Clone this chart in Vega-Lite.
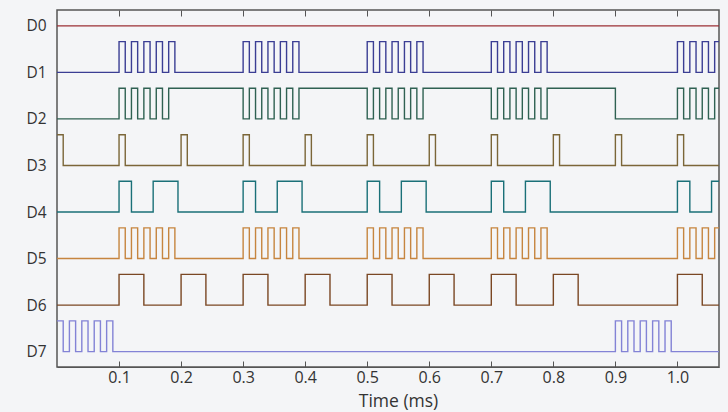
{
  "$schema": "https://vega.github.io/schema/vega-lite/v6.json",
  "width": 662,
  "height": 357,
  "padding": {"left": 57, "top": 10, "right": 9, "bottom": 45},
  "autosize": {"type": "none"},
  "background": "#f4f5f7",
  "config": {
    "view": {"stroke": "#555555", "strokeWidth": 1.5},
    "font": "Open Sans",
    "axis": {"labelColor": "#333333", "titleColor": "#333333", "domainColor": "#555555", "tickColor": "#555555", "grid": false, "labelFontSize": 15, "titleFontSize": 17.5, "titleFontWeight": "normal"}
  },
  "data": {
    "values": [
      {"ch": "D0", "n": 0, "t": 0, "v": 0}, {"ch": "D0", "n": 0, "t": 1.07, "v": 0},

      {"ch": "D1", "n": 1, "t": 0, "v": 0},
      {"ch": "D1", "n": 1, "t": 0.10, "v": 1}, {"ch": "D1", "n": 1, "t": 0.11, "v": 0}, {"ch": "D1", "n": 1, "t": 0.12, "v": 1}, {"ch": "D1", "n": 1, "t": 0.13, "v": 0}, {"ch": "D1", "n": 1, "t": 0.14, "v": 1}, {"ch": "D1", "n": 1, "t": 0.15, "v": 0}, {"ch": "D1", "n": 1, "t": 0.16, "v": 1}, {"ch": "D1", "n": 1, "t": 0.17, "v": 0}, {"ch": "D1", "n": 1, "t": 0.18, "v": 1}, {"ch": "D1", "n": 1, "t": 0.19, "v": 0},
      {"ch": "D1", "n": 1, "t": 0.30, "v": 1}, {"ch": "D1", "n": 1, "t": 0.31, "v": 0}, {"ch": "D1", "n": 1, "t": 0.32, "v": 1}, {"ch": "D1", "n": 1, "t": 0.33, "v": 0}, {"ch": "D1", "n": 1, "t": 0.34, "v": 1}, {"ch": "D1", "n": 1, "t": 0.35, "v": 0}, {"ch": "D1", "n": 1, "t": 0.36, "v": 1}, {"ch": "D1", "n": 1, "t": 0.37, "v": 0}, {"ch": "D1", "n": 1, "t": 0.38, "v": 1}, {"ch": "D1", "n": 1, "t": 0.39, "v": 0},
      {"ch": "D1", "n": 1, "t": 0.50, "v": 1}, {"ch": "D1", "n": 1, "t": 0.51, "v": 0}, {"ch": "D1", "n": 1, "t": 0.52, "v": 1}, {"ch": "D1", "n": 1, "t": 0.53, "v": 0}, {"ch": "D1", "n": 1, "t": 0.54, "v": 1}, {"ch": "D1", "n": 1, "t": 0.55, "v": 0}, {"ch": "D1", "n": 1, "t": 0.56, "v": 1}, {"ch": "D1", "n": 1, "t": 0.57, "v": 0}, {"ch": "D1", "n": 1, "t": 0.58, "v": 1}, {"ch": "D1", "n": 1, "t": 0.59, "v": 0},
      {"ch": "D1", "n": 1, "t": 0.70, "v": 1}, {"ch": "D1", "n": 1, "t": 0.71, "v": 0}, {"ch": "D1", "n": 1, "t": 0.72, "v": 1}, {"ch": "D1", "n": 1, "t": 0.73, "v": 0}, {"ch": "D1", "n": 1, "t": 0.74, "v": 1}, {"ch": "D1", "n": 1, "t": 0.75, "v": 0}, {"ch": "D1", "n": 1, "t": 0.76, "v": 1}, {"ch": "D1", "n": 1, "t": 0.77, "v": 0}, {"ch": "D1", "n": 1, "t": 0.78, "v": 1}, {"ch": "D1", "n": 1, "t": 0.79, "v": 0},
      {"ch": "D1", "n": 1, "t": 1.00, "v": 1}, {"ch": "D1", "n": 1, "t": 1.01, "v": 0}, {"ch": "D1", "n": 1, "t": 1.02, "v": 1}, {"ch": "D1", "n": 1, "t": 1.03, "v": 0}, {"ch": "D1", "n": 1, "t": 1.04, "v": 1}, {"ch": "D1", "n": 1, "t": 1.05, "v": 0}, {"ch": "D1", "n": 1, "t": 1.06, "v": 1}, {"ch": "D1", "n": 1, "t": 1.07, "v": 1},

      {"ch": "D2", "n": 2, "t": 0, "v": 0},
      {"ch": "D2", "n": 2, "t": 0.10, "v": 1}, {"ch": "D2", "n": 2, "t": 0.11, "v": 0}, {"ch": "D2", "n": 2, "t": 0.12, "v": 1}, {"ch": "D2", "n": 2, "t": 0.13, "v": 0}, {"ch": "D2", "n": 2, "t": 0.14, "v": 1}, {"ch": "D2", "n": 2, "t": 0.15, "v": 0}, {"ch": "D2", "n": 2, "t": 0.16, "v": 1}, {"ch": "D2", "n": 2, "t": 0.17, "v": 0}, {"ch": "D2", "n": 2, "t": 0.18, "v": 1},
      {"ch": "D2", "n": 2, "t": 0.30, "v": 0}, {"ch": "D2", "n": 2, "t": 0.31, "v": 1}, {"ch": "D2", "n": 2, "t": 0.32, "v": 0}, {"ch": "D2", "n": 2, "t": 0.33, "v": 1}, {"ch": "D2", "n": 2, "t": 0.34, "v": 0}, {"ch": "D2", "n": 2, "t": 0.35, "v": 1}, {"ch": "D2", "n": 2, "t": 0.36, "v": 0}, {"ch": "D2", "n": 2, "t": 0.37, "v": 1}, {"ch": "D2", "n": 2, "t": 0.38, "v": 0}, {"ch": "D2", "n": 2, "t": 0.39, "v": 1},
      {"ch": "D2", "n": 2, "t": 0.50, "v": 0}, {"ch": "D2", "n": 2, "t": 0.51, "v": 1}, {"ch": "D2", "n": 2, "t": 0.52, "v": 0}, {"ch": "D2", "n": 2, "t": 0.53, "v": 1}, {"ch": "D2", "n": 2, "t": 0.54, "v": 0}, {"ch": "D2", "n": 2, "t": 0.55, "v": 1}, {"ch": "D2", "n": 2, "t": 0.56, "v": 0}, {"ch": "D2", "n": 2, "t": 0.57, "v": 1}, {"ch": "D2", "n": 2, "t": 0.58, "v": 0}, {"ch": "D2", "n": 2, "t": 0.59, "v": 1},
      {"ch": "D2", "n": 2, "t": 0.70, "v": 0}, {"ch": "D2", "n": 2, "t": 0.71, "v": 1}, {"ch": "D2", "n": 2, "t": 0.72, "v": 0}, {"ch": "D2", "n": 2, "t": 0.73, "v": 1}, {"ch": "D2", "n": 2, "t": 0.74, "v": 0}, {"ch": "D2", "n": 2, "t": 0.75, "v": 1}, {"ch": "D2", "n": 2, "t": 0.76, "v": 0}, {"ch": "D2", "n": 2, "t": 0.77, "v": 1}, {"ch": "D2", "n": 2, "t": 0.78, "v": 0}, {"ch": "D2", "n": 2, "t": 0.79, "v": 1},
      {"ch": "D2", "n": 2, "t": 0.90, "v": 0},
      {"ch": "D2", "n": 2, "t": 1.00, "v": 1}, {"ch": "D2", "n": 2, "t": 1.01, "v": 0}, {"ch": "D2", "n": 2, "t": 1.02, "v": 1}, {"ch": "D2", "n": 2, "t": 1.03, "v": 0}, {"ch": "D2", "n": 2, "t": 1.04, "v": 1}, {"ch": "D2", "n": 2, "t": 1.05, "v": 0}, {"ch": "D2", "n": 2, "t": 1.06, "v": 1}, {"ch": "D2", "n": 2, "t": 1.07, "v": 1},

      {"ch": "D3", "n": 3, "t": 0.00, "v": 1}, {"ch": "D3", "n": 3, "t": 0.01, "v": 0},
      {"ch": "D3", "n": 3, "t": 0.10, "v": 1}, {"ch": "D3", "n": 3, "t": 0.11, "v": 0},
      {"ch": "D3", "n": 3, "t": 0.20, "v": 1}, {"ch": "D3", "n": 3, "t": 0.21, "v": 0},
      {"ch": "D3", "n": 3, "t": 0.30, "v": 1}, {"ch": "D3", "n": 3, "t": 0.31, "v": 0},
      {"ch": "D3", "n": 3, "t": 0.40, "v": 1}, {"ch": "D3", "n": 3, "t": 0.41, "v": 0},
      {"ch": "D3", "n": 3, "t": 0.50, "v": 1}, {"ch": "D3", "n": 3, "t": 0.51, "v": 0},
      {"ch": "D3", "n": 3, "t": 0.60, "v": 1}, {"ch": "D3", "n": 3, "t": 0.61, "v": 0},
      {"ch": "D3", "n": 3, "t": 0.70, "v": 1}, {"ch": "D3", "n": 3, "t": 0.71, "v": 0},
      {"ch": "D3", "n": 3, "t": 0.80, "v": 1}, {"ch": "D3", "n": 3, "t": 0.81, "v": 0},
      {"ch": "D3", "n": 3, "t": 0.90, "v": 1}, {"ch": "D3", "n": 3, "t": 0.91, "v": 0},
      {"ch": "D3", "n": 3, "t": 1.00, "v": 1}, {"ch": "D3", "n": 3, "t": 1.01, "v": 0},
      {"ch": "D3", "n": 3, "t": 1.07, "v": 0},

      {"ch": "D4", "n": 4, "t": 0, "v": 0},
      {"ch": "D4", "n": 4, "t": 0.10, "v": 1}, {"ch": "D4", "n": 4, "t": 0.12, "v": 0}, {"ch": "D4", "n": 4, "t": 0.155, "v": 1}, {"ch": "D4", "n": 4, "t": 0.195, "v": 0},
      {"ch": "D4", "n": 4, "t": 0.30, "v": 1}, {"ch": "D4", "n": 4, "t": 0.32, "v": 0}, {"ch": "D4", "n": 4, "t": 0.355, "v": 1}, {"ch": "D4", "n": 4, "t": 0.395, "v": 0},
      {"ch": "D4", "n": 4, "t": 0.50, "v": 1}, {"ch": "D4", "n": 4, "t": 0.52, "v": 0}, {"ch": "D4", "n": 4, "t": 0.555, "v": 1}, {"ch": "D4", "n": 4, "t": 0.595, "v": 0},
      {"ch": "D4", "n": 4, "t": 0.70, "v": 1}, {"ch": "D4", "n": 4, "t": 0.72, "v": 0}, {"ch": "D4", "n": 4, "t": 0.755, "v": 1}, {"ch": "D4", "n": 4, "t": 0.795, "v": 0},
      {"ch": "D4", "n": 4, "t": 1.00, "v": 1}, {"ch": "D4", "n": 4, "t": 1.02, "v": 0}, {"ch": "D4", "n": 4, "t": 1.055, "v": 1}, {"ch": "D4", "n": 4, "t": 1.07, "v": 1},

      {"ch": "D5", "n": 5, "t": 0, "v": 0},
      {"ch": "D5", "n": 5, "t": 0.10, "v": 1}, {"ch": "D5", "n": 5, "t": 0.11, "v": 0}, {"ch": "D5", "n": 5, "t": 0.12, "v": 1}, {"ch": "D5", "n": 5, "t": 0.13, "v": 0}, {"ch": "D5", "n": 5, "t": 0.14, "v": 1}, {"ch": "D5", "n": 5, "t": 0.15, "v": 0}, {"ch": "D5", "n": 5, "t": 0.16, "v": 1}, {"ch": "D5", "n": 5, "t": 0.17, "v": 0}, {"ch": "D5", "n": 5, "t": 0.18, "v": 1}, {"ch": "D5", "n": 5, "t": 0.19, "v": 0},
      {"ch": "D5", "n": 5, "t": 0.30, "v": 1}, {"ch": "D5", "n": 5, "t": 0.31, "v": 0}, {"ch": "D5", "n": 5, "t": 0.32, "v": 1}, {"ch": "D5", "n": 5, "t": 0.33, "v": 0}, {"ch": "D5", "n": 5, "t": 0.34, "v": 1}, {"ch": "D5", "n": 5, "t": 0.35, "v": 0}, {"ch": "D5", "n": 5, "t": 0.36, "v": 1}, {"ch": "D5", "n": 5, "t": 0.37, "v": 0}, {"ch": "D5", "n": 5, "t": 0.38, "v": 1}, {"ch": "D5", "n": 5, "t": 0.39, "v": 0},
      {"ch": "D5", "n": 5, "t": 0.50, "v": 1}, {"ch": "D5", "n": 5, "t": 0.51, "v": 0}, {"ch": "D5", "n": 5, "t": 0.52, "v": 1}, {"ch": "D5", "n": 5, "t": 0.53, "v": 0}, {"ch": "D5", "n": 5, "t": 0.54, "v": 1}, {"ch": "D5", "n": 5, "t": 0.55, "v": 0}, {"ch": "D5", "n": 5, "t": 0.56, "v": 1}, {"ch": "D5", "n": 5, "t": 0.57, "v": 0}, {"ch": "D5", "n": 5, "t": 0.58, "v": 1}, {"ch": "D5", "n": 5, "t": 0.59, "v": 0},
      {"ch": "D5", "n": 5, "t": 0.70, "v": 1}, {"ch": "D5", "n": 5, "t": 0.71, "v": 0}, {"ch": "D5", "n": 5, "t": 0.72, "v": 1}, {"ch": "D5", "n": 5, "t": 0.73, "v": 0}, {"ch": "D5", "n": 5, "t": 0.74, "v": 1}, {"ch": "D5", "n": 5, "t": 0.75, "v": 0}, {"ch": "D5", "n": 5, "t": 0.76, "v": 1}, {"ch": "D5", "n": 5, "t": 0.77, "v": 0}, {"ch": "D5", "n": 5, "t": 0.78, "v": 1}, {"ch": "D5", "n": 5, "t": 0.79, "v": 0},
      {"ch": "D5", "n": 5, "t": 1.00, "v": 1}, {"ch": "D5", "n": 5, "t": 1.01, "v": 0}, {"ch": "D5", "n": 5, "t": 1.02, "v": 1}, {"ch": "D5", "n": 5, "t": 1.03, "v": 0}, {"ch": "D5", "n": 5, "t": 1.04, "v": 1}, {"ch": "D5", "n": 5, "t": 1.05, "v": 0}, {"ch": "D5", "n": 5, "t": 1.06, "v": 1}, {"ch": "D5", "n": 5, "t": 1.07, "v": 1},

      {"ch": "D6", "n": 6, "t": 0, "v": 0},
      {"ch": "D6", "n": 6, "t": 0.10, "v": 1}, {"ch": "D6", "n": 6, "t": 0.14, "v": 0},
      {"ch": "D6", "n": 6, "t": 0.20, "v": 1}, {"ch": "D6", "n": 6, "t": 0.24, "v": 0},
      {"ch": "D6", "n": 6, "t": 0.30, "v": 1}, {"ch": "D6", "n": 6, "t": 0.34, "v": 0},
      {"ch": "D6", "n": 6, "t": 0.40, "v": 1}, {"ch": "D6", "n": 6, "t": 0.44, "v": 0},
      {"ch": "D6", "n": 6, "t": 0.50, "v": 1}, {"ch": "D6", "n": 6, "t": 0.54, "v": 0},
      {"ch": "D6", "n": 6, "t": 0.60, "v": 1}, {"ch": "D6", "n": 6, "t": 0.64, "v": 0},
      {"ch": "D6", "n": 6, "t": 0.70, "v": 1}, {"ch": "D6", "n": 6, "t": 0.74, "v": 0},
      {"ch": "D6", "n": 6, "t": 0.80, "v": 1}, {"ch": "D6", "n": 6, "t": 0.84, "v": 0},
      {"ch": "D6", "n": 6, "t": 1.00, "v": 1}, {"ch": "D6", "n": 6, "t": 1.04, "v": 0},
      {"ch": "D6", "n": 6, "t": 1.07, "v": 0},

      {"ch": "D7", "n": 7, "t": 0.00, "v": 1}, {"ch": "D7", "n": 7, "t": 0.01, "v": 0}, {"ch": "D7", "n": 7, "t": 0.02, "v": 1}, {"ch": "D7", "n": 7, "t": 0.03, "v": 0}, {"ch": "D7", "n": 7, "t": 0.04, "v": 1}, {"ch": "D7", "n": 7, "t": 0.05, "v": 0}, {"ch": "D7", "n": 7, "t": 0.06, "v": 1}, {"ch": "D7", "n": 7, "t": 0.07, "v": 0}, {"ch": "D7", "n": 7, "t": 0.08, "v": 1}, {"ch": "D7", "n": 7, "t": 0.09, "v": 0},
      {"ch": "D7", "n": 7, "t": 0.90, "v": 1}, {"ch": "D7", "n": 7, "t": 0.91, "v": 0}, {"ch": "D7", "n": 7, "t": 0.92, "v": 1}, {"ch": "D7", "n": 7, "t": 0.93, "v": 0}, {"ch": "D7", "n": 7, "t": 0.94, "v": 1}, {"ch": "D7", "n": 7, "t": 0.95, "v": 0}, {"ch": "D7", "n": 7, "t": 0.96, "v": 1}, {"ch": "D7", "n": 7, "t": 0.97, "v": 0}, {"ch": "D7", "n": 7, "t": 0.98, "v": 1}, {"ch": "D7", "n": 7, "t": 0.99, "v": 0},
      {"ch": "D7", "n": 7, "t": 1.07, "v": 0}
    ]
  },
  "transform": [{"calculate": "7 - datum.n + datum.v * 0.66", "as": "level"}],
  "resolve": {"axis": {"x": "independent"}},
  "layer": [
    {
      "mark": {"type": "line", "interpolate": "step-after", "strokeWidth": 1.4, "clip": true},
      "encoding": {
        "x": {"field": "t", "type": "quantitative", "scale": {"domain": [0, 1.067], "nice": false, "zero": false},
          "axis": {"orient": "bottom", "title": "Time (ms)", "values": [0.1, 0.2, 0.3, 0.4, 0.5, 0.6, 0.7, 0.8, 0.9, 1.0], "format": ".1f", "tickSize": -6, "labelFontSize": 16, "labelPadding": 8, "titlePadding": 7, "titleX": 341, "titleAlign": "center"}},
        "y": {"field": "level", "type": "quantitative", "scale": {"domain": [-0.33, 7.34], "nice": false, "zero": false},
          "axis": {"title": null, "values": [0, 1, 2, 3, 4, 5, 6, 7], "labelExpr": "'D' + (7 - datum.value)", "ticks": false, "labelPadding": 11, "labelFontSize": 15.5, "domain": false}},
        "color": {"field": "ch", "type": "nominal", "legend": null,
          "scale": {"domain": ["D0", "D1", "D2", "D3", "D4", "D5", "D6", "D7"], "range": ["#9b2f35", "#3b3e94", "#2f6152", "#7b6638", "#1a7078", "#c6853f", "#7a4723", "#8383d6"]}},
        "detail": {"field": "ch"}
      }
    },
    {
      "mark": {"type": "rule", "opacity": 0},
      "encoding": {
        "x": {"field": "t", "type": "quantitative",
          "axis": {"orient": "top", "title": null, "labels": false, "domain": false, "values": [0.1, 0.2, 0.3, 0.4, 0.5, 0.6, 0.7, 0.8, 0.9, 1.0], "tickSize": -6}}
      }
    }
  ]
}
